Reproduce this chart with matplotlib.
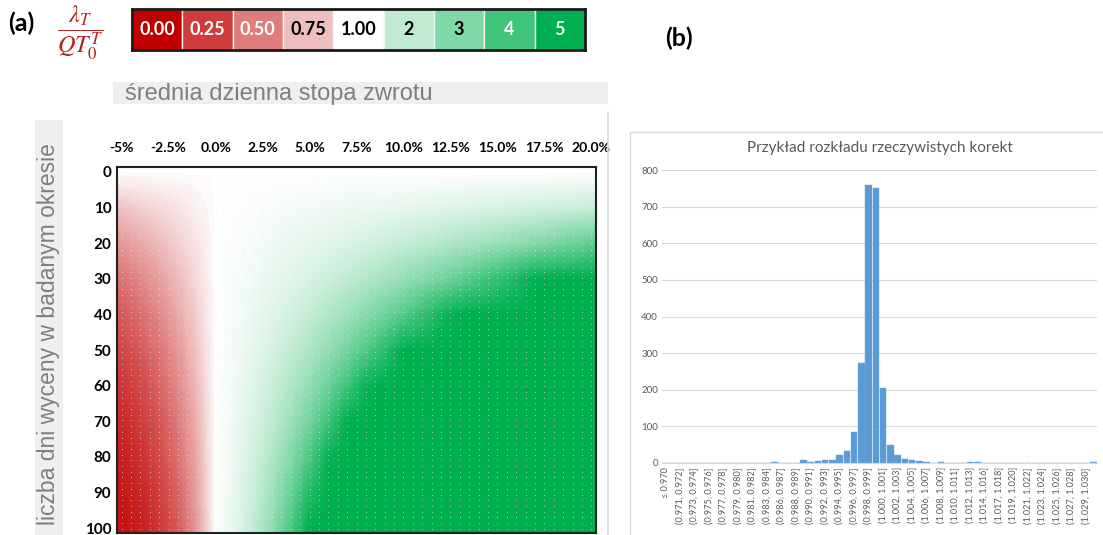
import numpy as np
import matplotlib
matplotlib.use("Agg")
import matplotlib.pyplot as plt
from matplotlib.colors import LinearSegmentedColormap, Normalize
from matplotlib.patches import Rectangle
from matplotlib.lines import Line2D

plt.rcParams['mathtext.fontset'] = 'stix'

# (a) lambda_T / QT_0^T vs mean daily return (%) and number of valuation days
rates = [-5, -4, -3, -2, -1, 0, 1, 2, 3, 4, 5, 6, 7, 8, 9, 10, 11, 12, 13, 14, 15, 16, 17, 18, 19, 20]
days = [0, 10, 20, 30, 40, 50, 60, 70, 80, 90, 100]
ratio = [
    [1.00] * 26,
    [0.77, 0.82, 0.86, 0.90, 0.95, 1.00, 1.03, 1.07, 1.11, 1.14, 1.18, 1.22, 1.26,
     1.30, 1.34, 1.38, 1.43, 1.47, 1.52, 1.56, 1.61, 1.66, 1.71, 1.76, 1.81, 1.86],
    [0.60, 0.67, 0.74, 0.82, 0.90, 1.00, 1.07, 1.14, 1.22, 1.31, 1.39, 1.49, 1.58,
     1.69, 1.80, 1.91, 2.03, 2.16, 2.30, 2.44, 2.59, 2.74, 2.91, 3.08, 3.26, 3.46],
    [0.46, 0.54, 0.63, 0.74, 0.86, 1.00, 1.11, 1.22, 1.35, 1.49, 1.65, 1.81, 1.99,
     2.19, 2.41, 2.64, 2.90, 3.18, 3.48, 3.81, 4.16, 4.54, 4.96, 5.00, 5.00, 5.00],
    [0.36, 0.44, 0.54, 0.67, 0.82, 1.00, 1.15, 1.31, 1.50, 1.71, 1.94, 2.21, 2.51,
     2.85, 3.23, 3.66, 4.13, 4.67, 5.00, 5.00, 5.00, 5.00, 5.00, 5.00, 5.00, 5.00],
    [0.28, 0.36, 0.47, 0.60, 0.78, 1.00, 1.18, 1.40, 1.65, 1.95, 2.29, 2.69, 3.16,
     3.70, 4.33, 5.00, 5.00, 5.00, 5.00, 5.00, 5.00, 5.00, 5.00, 5.00, 5.00, 5.00],
    [0.22, 0.29, 0.40, 0.55, 0.74, 1.00, 1.23, 1.50, 1.83, 2.23, 2.71, 3.28, 3.98,
     4.81, 5.00, 5.00, 5.00, 5.00, 5.00, 5.00, 5.00, 5.00, 5.00, 5.00, 5.00, 5.00],
    [0.17, 0.24, 0.34, 0.49, 0.70, 1.00, 1.27, 1.60, 2.02, 2.54, 3.19, 4.00, 5.00,
     5.00, 5.00, 5.00, 5.00, 5.00, 5.00, 5.00, 5.00, 5.00, 5.00, 5.00, 5.00, 5.00],
    [0.13, 0.20, 0.30, 0.45, 0.67, 1.00, 1.31, 1.71, 2.23, 2.91, 3.77, 4.88, 5.00,
     5.00, 5.00, 5.00, 5.00, 5.00, 5.00, 5.00, 5.00, 5.00, 5.00, 5.00, 5.00, 5.00],
    [0.10, 0.16, 0.25, 0.40, 0.64, 1.00, 1.36, 1.83, 2.47, 3.32, 4.45, 5.00, 5.00,
     5.00, 5.00, 5.00, 5.00, 5.00, 5.00, 5.00, 5.00, 5.00, 5.00, 5.00, 5.00, 5.00],
    [0.08, 0.13, 0.22, 0.36, 0.61, 1.00, 1.40, 1.96, 2.73, 3.79, 5.00, 5.00, 5.00,
     5.00, 5.00, 5.00, 5.00, 5.00, 5.00, 5.00, 5.00, 5.00, 5.00, 5.00, 5.00, 5.00],
]
rate_ticks = [-5, -2.5, 0, 2.5, 5, 7.5, 10, 12.5, 15, 17.5, 20]
rate_tick_labels = ['-5%', '-2.5%', '0.0%', '2.5%', '5.0%', '7.5%', '10.0%',
                    '12.5%', '15.0%', '17.5%', '20.0%']
day_ticks = [0, 10, 20, 30, 40, 50, 60, 70, 80, 90, 100]

legend_values = [0, 0.25, 0.5, 0.75, 1, 2, 3, 4, 5]
legend_labels = ['0.00', '0.25', '0.50', '0.75', '1.00', '2', '3', '4', '5']

# (b) histogram of actual corrections
bin_counts = [0, 0, 0, 0, 0, 0, 0, 0, 0, 0, 0, 0, 1, 0, 0, 4, 1, 0, 0, 7,
              4, 6, 7, 9, 23, 34, 85, 272, 760, 752, 205, 48, 22, 12, 7, 6, 4, 1, 4, 0,
              1, 1, 4, 4, 0, 0, 0, 0, 0, 0, 0, 0, 0, 0, 0, 0, 0, 0, 0, 2]
bin_tick_labels = ['≤ 0.970', '(0.971, 0.972]', '(0.973, 0.974]', '(0.975, 0.976]',
                   '(0.977, 0.978]', '(0.979, 0.980]', '(0.981, 0.982]', '(0.983, 0.984]',
                   '(0.986, 0.987]', '(0.988, 0.989]', '(0.990, 0.991]', '(0.992, 0.993]',
                   '(0.994, 0.995]', '(0.996, 0.997]', '(0.998, 0.999]', '(1.000, 1.001]',
                   '(1.002, 1.003]', '(1.004, 1.005]', '(1.006, 1.007]', '(1.008, 1.009]',
                   '(1.010, 1.011]', '(1.012, 1.013]', '(1.014, 1.016]', '(1.017, 1.018]',
                   '(1.019, 1.020]', '(1.021, 1.022]', '(1.023, 1.024]', '(1.025, 1.026]',
                   '(1.027, 1.028]', '(1.029, 1.030]']

W, H = 1103, 535
fig = plt.figure(figsize=(W / 100, H / 100), dpi=100)


def fbox(x0, y0, x1, y1):
    # pixel box measured from the top-left corner -> figure fraction rect
    return [x0 / W, 1 - y1 / H, (x1 - x0) / W, (y1 - y0) / H]


def band(x0, y0, x1, y1, color):
    fig.patches.append(Rectangle((x0 / W, 1 - y1 / H), (x1 - x0) / W, (y1 - y0) / H,
                                 transform=fig.transFigure, facecolor=color,
                                 edgecolor='none', zorder=0))


# red -> white (1.0) -> green (5.0) colour scale
cmap = LinearSegmentedColormap.from_list('rwg', [(0.0, '#C00000'), (0.2, '#FFFFFF'),
                                                 (1.0, '#00B050')])
norm = Normalize(0, 5)

calibri = ['Lato', 'DejaVu Sans']

# ---- heatmap ----
ax = fig.add_axes(fbox(117, 167, 596, 533))
r = np.array(rates, dtype=float)
d = np.array(days, dtype=float)
ax.imshow(ratio, cmap=cmap, norm=norm, aspect='auto', interpolation='bilinear',
          extent=(r[0] - 0.5, r[-1] + 0.5, d[-1] + 5, d[0] - 5))
# dotted cell borders
gx, gy = np.meshgrid(np.arange(-5.0, 20.01, 0.5), np.arange(1.0, 100.5, 1.6))
ax.scatter(gx.ravel(), gy.ravel(), s=0.5, color='#E8E8E8', alpha=0.55, linewidths=0)
ax.set_xlim(-5.25, 20.25)
ax.set_ylim(101.4, -1.4)
ax.xaxis.tick_top()
ax.set_xticks(rate_ticks)
ax.set_xticklabels(rate_tick_labels, family=calibri, fontweight='bold', fontsize=10)
ax.set_yticks(day_ticks)
ax.set_yticklabels([str(v) for v in day_ticks], family=calibri, fontweight='bold', fontsize=11)
ax.tick_params(axis='x', length=0, pad=9)
ax.tick_params(axis='y', length=0, pad=4)
for s in ax.spines.values():
    s.set_linewidth(1.5)
    s.set_color('#222222')

# axis description bands
band(113, 82, 608, 104, '#EFEFEF')
fig.text(125 / W, 1 - 94 / H, 'średnia dzienna stopa zwrotu', ha='left', va='center',
         fontsize=17, color='#7F7F7F', family='Liberation Sans')
band(35, 120, 63, 535, '#EFEFEF')
fig.text(49 / W, 1 - 334 / H, 'liczba dni wyceny w badanym okresie', rotation=90,
         ha='center', va='center', fontsize=16.5, color='#7F7F7F', family='Liberation Sans')

# ---- colour legend ----
lax = fig.add_axes(fbox(132, 9, 585, 50))
for i, v in enumerate(legend_values):
    lax.add_patch(Rectangle((i, 0), 1, 1, facecolor=cmap(norm(v)), edgecolor='#F4F4F4', lw=1))
    tc = 'white' if (v < 0.6 or v > 3.5) else 'black'
    lax.text(i + 0.5, 0.5, legend_labels[i], ha='center', va='center', color=tc,
             family=calibri, fontweight='bold', fontsize=13)
lax.set_xlim(0, len(legend_values))
lax.set_ylim(0, 1)
lax.set_xticks([])
lax.set_yticks([])
for s in lax.spines.values():
    s.set_linewidth(2)
    s.set_color('#1A1A1A')

fig.text(8 / W, 1 - 23 / H, '(a)', ha='left', va='center', fontsize=18,
         fontweight='bold', family=calibri)
fig.text(80 / W, 1 - 33 / H, r'$\dfrac{\lambda_T}{QT_0^T}$', ha='center', va='center',
         fontsize=17.5, color='#B22222')
fig.text(665 / W, 1 - 38 / H, '(b)', ha='left', va='center', fontsize=18,
         fontweight='bold', family=calibri)

# separator line and chart frame of (b)
fig.add_artist(Line2D([607.5 / W, 607.5 / W], [1 - 112 / H, 0], color='#D5DCE4', lw=1.2))
fig.patches.append(Rectangle((630 / W, -0.05), 0.5, 1.05 - 132 / H,
                             transform=fig.transFigure, facecolor='none',
                             edgecolor='#D9D9D9', lw=1, zorder=0))

# ---- histogram ----
hx = fig.add_axes(fbox(662, 170, 1097, 463))
pos = np.arange(len(bin_counts))
hx.bar(pos, bin_counts, width=0.88, color='#5B9BD5', edgecolor='#6FA8DC', lw=0.3, zorder=2)
hx.set_xlim(-0.5, len(bin_counts) - 0.5)
hx.set_ylim(0, 800)
hx.set_yticks(range(0, 801, 100))
hx.set_yticklabels([str(v) for v in range(0, 801, 100)], family=calibri, fontsize=7,
                   color='#595959')
hx.set_xticks(pos[::2])
hx.set_xticklabels(bin_tick_labels, rotation=90, family=calibri, fontsize=6.6,
                   color='#595959')
hx.tick_params(axis='both', length=0, pad=3)
hx.grid(axis='y', color='#D9D9D9', lw=0.8, zorder=0)
hx.set_axisbelow(True)
for k in ['top', 'right', 'left']:
    hx.spines[k].set_visible(False)
hx.spines['bottom'].set_color('#D9D9D9')
hx.set_title('Przykład rozkładu rzeczywistych korekt', family=calibri, fontsize=11,
             color='#595959', pad=13)

fig.savefig('out.png', dpi=100)
